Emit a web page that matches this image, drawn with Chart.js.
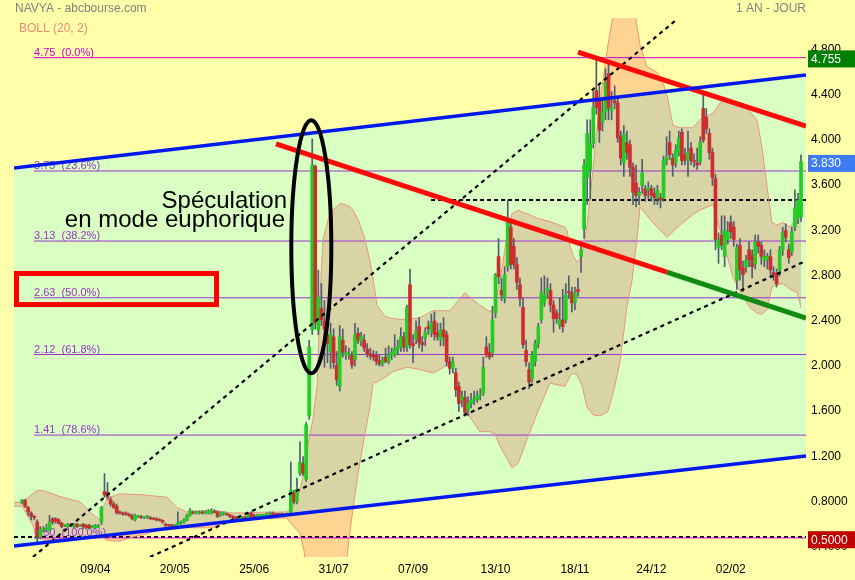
<!DOCTYPE html>
<html>
<head>
<meta charset="utf-8">
<script src="https://cdn.jsdelivr.net/npm/chart.js"></script>
<style>
  html, body { margin: 0; padding: 0; background: #FFFFAA; }
  #wrap { width: 855px; height: 580px; }
</style>
</head>
<body>
<div id="wrap"><canvas id="chart" width="855" height="580"></canvas></div>
<script>
// daily candles, index 0 = first session shown
const open = [
  .81,.835,.77,.72,.69,.64,.51,.57,.58,.57,.67,.67,.66,.63,.61,.60,
  .62,.60,.62,.61,.62,.61,.61,.60,.59,.60,.64,.91,.90,.84,.80,.78,
  .73,.72,.72,.71,.70,.66,.69,.69,.68,.68,.68,.675,.67,.665,.655,.62,
  .615,.615,.61,.615,.63,.64,.66,.70,.73,.72,.72,.73,.72,.72,.72,.735,
  .73,.70,.715,.715,.705,.69,.685,.665,.67,.685,.67,.72,.70,.69,.695,.70,
  .70,.71,.72,.715,.71,.71,.705,.71,.73,.90,.82,1.07,1.16,1.02,1.58,2.34,
  3.79,2.34,2.53,2.42,2.30,2.15,2.28,2.03,1.84,2.25,2.12,2.12,2.12,2.08,2.31,2.24,
  2.25,2.17,2.13,2.12,2.12,2.07,2.04,2.10,2.06,2.12,2.12,2.17,2.19,2.28,2.19,2.74,
  2.22,2.26,2.37,2.23,2.27,2.37,2.32,2.42,2.32,2.25,2.34,2.30,2.06,2.00,1.96,1.84,
  1.72,1.74,1.63,1.69,1.72,1.72,1.755,1.78,2.19,2.14,2.14,2.49,2.99,2.69,2.62,2.90,
  3.25,3.08,2.92,2.74,2.54,2.16,1.99,1.91,2.06,2.22,2.43,2.58,2.67,2.69,2.56,2.49,
  2.38,2.43,2.43,2.68,2.67,2.58,2.70,2.99,3.23,3.69,3.76,3.99,4.46,4.39,4.18,4.27,
  4.61,4.28,4.37,4.35,4.05,3.82,4.00,3.98,3.78,3.64,3.53,3.62,3.59,3.58,3.59,3.55,
  3.51,3.51,3.51,3.84,4.00,3.86,3.82,3.91,4.09,3.89,3.84,3.95,3.84,3.82,3.83,4.30,
  4.22,4.08,3.91,3.68,3.07,3.18,2.99,3.14,3.29,3.25,2.78,3.09,2.89,2.90,3.05,3.00,
  2.92,3.12,3.09,2.96,2.96,2.99,2.85,2.84,2.87,3.05,3.22,3.05,3.03,3.25,3.33,3.34
];
const high = [
  .84,.84,.78,.73,.70,.66,.60,.60,.62,.70,.68,.68,.67,.64,.62,.63,
  .63,.63,.63,.62,.63,.62,.62,.61,.62,.62,.78,1.07,.99,.86,.82,.80,
  .74,.73,.73,.72,.71,.71,.70,.70,.69,.70,.69,.68,.68,.67,.66,.63,
  .62,.62,.62,.73,.65,.67,.71,.76,.74,.74,.74,.74,.74,.75,.76,.75,
  .74,.73,.73,.72,.71,.70,.69,.68,.69,.69,.72,.73,.71,.71,.71,.71,
  .72,.73,.73,.72,.72,.72,.71,.72,1.17,.92,1.03,1.35,1.22,1.52,2.25,4.03,
  3.80,2.87,2.75,2.60,2.40,2.40,2.35,2.15,2.38,2.35,2.20,2.18,2.15,2.40,2.36,2.32,
  2.30,2.22,2.18,2.16,2.15,2.12,2.10,2.18,2.20,2.18,2.30,2.25,2.36,2.32,2.56,2.88,
  2.30,2.42,2.45,2.28,2.36,2.42,2.48,2.50,2.40,2.40,2.45,2.33,2.10,2.10,2.00,1.88,
  1.80,1.80,1.75,1.78,1.80,1.80,1.82,2.10,2.28,2.22,2.55,2.84,3.15,2.80,2.90,3.49,
  3.30,3.15,2.98,2.80,2.62,2.25,2.05,2.15,2.25,2.40,2.80,2.82,2.80,2.75,2.60,2.52,
  2.62,2.70,2.75,2.82,2.72,2.72,2.80,3.10,3.85,4.20,4.20,4.45,4.755,4.50,4.40,4.65,
  4.70,4.45,4.50,4.40,4.10,4.15,4.10,4.02,3.82,3.80,3.60,3.85,3.62,3.65,3.62,3.60,
  3.62,3.55,3.88,4.05,4.10,3.90,3.98,4.10,4.12,3.95,4.10,4.00,3.90,3.95,4.05,4.42,
  4.30,4.12,3.95,3.72,3.20,3.35,3.35,3.30,3.35,3.30,3.10,3.15,2.95,3.00,3.12,3.05,
  3.18,3.18,3.12,3.05,3.02,3.05,2.90,2.88,3.08,3.25,3.28,3.10,3.25,3.58,3.55,3.89
];
const low = [
  .80,.77,.70,.66,.66,.46,.49,.55,.56,.56,.62,.63,.62,.59,.60,.59,
  .60,.59,.59,.60,.58,.58,.58,.59,.58,.59,.62,.86,.84,.78,.76,.71,
  .71,.70,.70,.69,.66,.65,.68,.67,.67,.67,.66,.66,.65,.65,.63,.60,
  .60,.60,.60,.61,.62,.63,.65,.69,.71,.71,.71,.71,.71,.71,.71,.72,
  .68,.69,.70,.70,.68,.67,.65,.66,.66,.66,.66,.68,.68,.68,.69,.69,
  .69,.70,.70,.70,.70,.70,.70,.70,.72,.80,.80,1.05,1.05,1.00,1.55,2.30,
  2.35,2.30,2.38,2.01,2.05,2.00,2.00,1.85,1.80,2.10,2.08,2.08,2.00,2.02,2.22,2.20,
  2.15,2.10,2.08,2.07,2.03,2.02,2.02,2.05,2.04,2.08,2.10,2.12,2.15,2.15,2.15,2.18,
  2.05,2.22,2.18,2.15,2.20,2.30,2.28,2.25,2.25,2.20,2.20,2.02,1.95,1.96,1.75,1.62,
  1.66,1.58,1.58,1.65,1.68,1.70,1.72,1.76,2.10,2.08,2.10,2.45,2.75,2.60,2.58,2.86,
  2.88,2.88,2.70,2.55,2.18,2.02,1.82,1.88,2.02,2.18,2.40,2.55,2.62,2.50,2.32,2.40,
  2.35,2.32,2.40,2.62,2.50,2.52,2.64,2.85,3.15,3.45,3.50,3.95,4.25,4.00,4.10,4.20,
  4.20,4.20,4.30,4.00,3.80,3.70,3.85,3.70,3.45,3.43,3.45,3.55,3.48,3.50,3.48,3.45,
  3.45,3.42,3.48,3.80,3.85,3.70,3.78,3.88,3.80,3.80,3.70,3.80,3.78,3.76,3.80,4.00,
  4.08,3.85,3.62,3.05,2.93,3.05,2.90,3.10,3.15,3.08,2.70,2.78,2.68,2.85,2.90,2.80,
  2.88,3.02,2.92,2.90,2.88,2.82,2.78,2.72,2.82,3.00,3.12,2.93,3.00,3.22,3.28,3.30
];
const close = [
  .835,.78,.73,.69,.68,.51,.57,.58,.59,.64,.64,.65,.63,.60,.61,.62,
  .61,.62,.60,.61,.60,.59,.59,.60,.61,.61,.77,.88,.86,.80,.77,.72,
  .72,.71,.71,.70,.67,.70,.69,.68,.685,.69,.67,.665,.66,.655,.64,.61,
  .61,.605,.615,.63,.645,.66,.70,.74,.72,.73,.73,.72,.73,.74,.745,.725,
  .69,.72,.725,.705,.69,.68,.67,.675,.68,.67,.70,.69,.69,.70,.705,.705,
  .71,.72,.71,.705,.705,.705,.705,.71,.92,.82,.93,1.17,1.07,1.50,2.19,3.80,
  2.40,2.63,2.43,2.35,2.22,2.30,2.05,1.90,2.28,2.14,2.14,2.12,2.03,2.30,2.25,2.28,
  2.18,2.13,2.11,2.10,2.06,2.04,2.07,2.06,2.12,2.14,2.18,2.19,2.28,2.19,2.54,2.21,
  2.20,2.33,2.23,2.21,2.32,2.35,2.40,2.30,2.28,2.34,2.28,2.06,2.00,2.06,1.81,1.69,
  1.75,1.61,1.69,1.72,1.73,1.76,1.765,2.01,2.12,2.10,2.43,2.83,2.81,2.65,2.83,3.30,
  2.92,2.92,2.76,2.62,2.21,2.06,1.88,2.12,2.22,2.37,2.67,2.65,2.71,2.56,2.44,2.44,
  2.43,2.37,2.65,2.67,2.58,2.67,2.68,3.05,3.80,4.08,3.99,4.31,4.31,4.11,4.27,4.53,
  4.30,4.31,4.35,4.04,3.86,4.07,3.91,3.78,3.56,3.53,3.56,3.73,3.53,3.60,3.53,3.51,
  3.58,3.49,3.84,3.87,3.89,3.80,3.93,4.04,3.84,3.84,3.91,3.84,3.83,3.80,4.00,4.02,
  4.12,3.91,3.69,3.14,3.14,3.09,3.22,3.21,3.21,3.14,3.07,2.87,2.83,2.96,2.96,2.90,
  3.12,3.08,2.99,2.99,2.99,2.87,2.83,2.75,3.05,3.20,3.16,2.98,3.21,3.42,3.49,3.83
];

// BOLL (20, 2) at these sessions
const bandDay = [-2.62,0,2.6,4.9,6.9,12,16,19,22.3,25.5,26.5,27.8,28.8,32,36.3,40,47.5,50.7,54,62.5,69,75.6,86.7,88.7,91,92.3,93.9,95.2,96.6,97.5,98.5,100.8,104.1,105.7,106.4,107.4,108.4,110,112.3,113.9,114.9,116.2,118.8,121.4,126,130.3,134.5,136.8,140.1,143.4,145,146.6,149.9,153.2,154.8,156.5,158.8,160.4,162.4,165.3,168.6,172.8,177.7,178.4,179.4,180.4,181.7,183.3,184.9,186.9,188.5,190.2,191.8,193.5,195.7,198,199.7,201.3,202.3,204.6,207.9,209.8,211.1,213.1,215.4,219.6,221.9,226.2,228.5,230.8,232.7,236,238.3,240.6,242.2,243.9,245.5,247.1,249.1,251.4,253.7,255];
const bandUp = [.81,.82,.87,.92,.92,.87,.84,.82,.73,.66,.77,.84,.86,.89,.885,.88,.86,.77,.73,.745,.72,.725,.73,.77,.92,1.08,1.37,1.54,1.85,2.6,3.14,3.375,3.46,3.45,3.44,3.43,3.40,3.32,3.14,2.95,2.80,2.56,2.46,2.44,2.43,2.45,2.51,2.51,2.51,2.62,2.67,2.63,2.56,2.50,2.56,2.78,3.18,3.37,3.40,3.37,3.33,3.30,3.25,3.22,3.08,3.00,2.94,2.99,3.25,3.76,4.20,4.55,4.86,5.13,5.35,5.35,5.30,5.03,4.86,4.67,4.62,4.53,4.42,4.15,4.13,4.13,4.20,4.26,4.35,4.375,4.37,4.34,4.27,4.20,3.96,3.61,3.29,3.27,3.29,3.25,3.34,3.45];
const bandLow = [.78,.78,.66,.53,.48,.48,.48,.49,.50,.51,.50,.48,.475,.47,.51,.53,.59,.59,.59,.59,.66,.675,.675,.61,.54,.39,0,-.2,-.35,-.4,-.42,-.42,-.3,.15,.33,.57,.77,1.07,1.43,1.66,1.87,1.88,1.92,1.97,2.01,1.99,1.96,1.99,2.05,1.81,1.68,1.57,1.44,1.44,1.42,1.31,1.20,1.12,1.16,1.37,1.60,1.87,1.84,1.88,1.93,1.96,1.94,1.85,1.66,1.59,1.58,1.59,1.62,1.78,2.05,2.54,2.78,3.14,3.43,3.35,3.25,3.20,3.16,3.21,3.27,3.36,3.40,3.45,3.22,3.00,2.81,2.63,2.54,2.49,2.48,2.52,2.72,2.74,2.75,2.70,2.67,2.54];

// Fibonacci retracement (0% = 4.75, 100% = 0.50)
const fibValue = [4.75, 3.747, 3.127, 2.625, 2.123, 1.41, 0.5];
const fibText = ['4.75  (0.0%)', '3.75  (23.6%)', '3.13  (38.2%)', '2.63  (50.0%)', '2.12  (61.8%)', '1.41  (78.6%)', '0.50  (100.0%)'];
const fibStart = 3.93;

// axes
const dayMin = -2.62, dayMax = 256.63;
const priceMin = 0.331, priceMax = 5.101;
const yTicks = [0.4, 0.8, 1.2, 1.6, 2.0, 2.4, 2.8, 3.2, 3.6, 4.0, 4.4, 4.8];
const tickDay = [24, 50, 76, 102, 128, 155, 181, 206, 232];
const tickLabel = ['09/04', '20/05', '25/06', '31/07', '07/09', '13/10', '18/11', '24/12', '02/02'];

// hand drawn analysis, [day, price]
const blueUp = [[-2.62, 3.773], [256.63, 4.597]];
const blueLow = [[-2.62, 0.428], [256.63, 1.225]];
const redLong = [[83.14, 3.986], [211.1, 2.853]];
const greenLong = [[211.1, 2.853], [256.63, 2.446]];
const redTop = [[182.0, 4.80], [256.63, 4.145]];
const dotSteep = [[3.6, 0.331], [214.1, 5.083]];
const dotLow = [[41.9, 0.331], [256.63, 2.951]];
const dashHigh = [[133.9, 3.49], [256.63, 3.49]];
const dashLow = [[-2.62, 0.508], [256.63, 0.508]];
const ellipseAt = [94.7, 3.077], ellipseSize = [6.55, 1.12];
const frame = [[-1.8, 2.840], [63.67, 2.565]];
const noteAt = [[86.74, 3.419], [86.1, 3.247]];
const noteText = ['Spéculation', 'en mode euphorique'];

// price tags on the right axis
const tagValue = [4.755, 3.83, 0.5];
const tagText = ['4.755', '3.830', '0.5000'];

const FONT = '"Liberation Sans", Arial, sans-serif';
Chart.defaults.font.family = FONT;
Chart.defaults.font.size = 12;

const pts = arr => arr.map(p => ({x: p[0], y: p[1]}));
const bandPts = vals => bandDay.map((d, k) => ({x: d, y: vals[k]}));
const line = (data, color, width, dash, order) => ({
  type: 'line', data, borderColor: color, borderWidth: width, borderDash: dash || [],
  pointRadius: 0, tension: 0, fill: false, order
});

const datasets = [];
// 0-1: channel between the blue lines
datasets.push(line(pts(blueLow), 'rgba(0,0,0,0)', 0, null, 100));
datasets.push(Object.assign(line(pts(blueUp), 'rgba(0,0,0,0)', 0, null, 99), {fill: {target: 0}, backgroundColor: '#D9FFC2'}));
// 2-3: bollinger band area (multiplied over the background)
datasets.push(line(bandPts(bandLow), 'rgba(0,0,0,0)', 0, null, 98));
datasets.push(Object.assign(line(bandPts(bandUp), 'rgba(0,0,0,0)', 0, null, 97), {fill: {target: 2}, backgroundColor: 'rgb(255,212,218)'}));
// fib levels
fibValue.forEach((v, k) => {
  const edge = k === 0 || k === fibValue.length - 1;
  datasets.push(line([{x: fibStart, y: v}, {x: dayMax, y: v}], edge ? '#CC00CC' : '#9933CC', 1, null, 41));
});
datasets.push(line(pts(dashLow), '#000', 2, [4, 3], 42));
const dashHighIndex = datasets.length;
datasets.push(line(pts(dashHigh), '#000', 2, [4, 3], 40));
// band outlines
datasets.push(line(bandPts(bandUp), '#E8957E', 1, null, 30));
datasets.push(line(bandPts(bandLow), '#E8957E', 1, null, 30));
// candles
datasets.push({
  type: 'bar', data: open.map((o, i) => ({x: i, y: [low[i], high[i]]})),
  backgroundColor: '#4E5E6E', barThickness: 1, grouped: false, order: 21
});
datasets.push({
  type: 'bar', data: open.map((o, i) => ({x: i, y: [o, close[i]]})),
  backgroundColor: c => close[c.dataIndex] >= open[c.dataIndex] ? '#22CC22' : '#CC2E2E',
  barThickness: 3, grouped: false, minBarLength: 1, order: 20
});
// trend lines
datasets.push(line(pts(dotSteep), '#000', 2.2, [4, 4], 12));
datasets.push(line(pts(dotLow), '#000', 2.2, [4, 4], 12));
datasets.push(line(pts(redLong), '#FF0A0A', 5, null, 11));
datasets.push(line(pts(greenLong), '#108A10', 5, null, 11));
datasets.push(line(pts(redTop), '#FF0A0A', 5, null, 11));
datasets.push(line(pts(blueUp), '#0018F0', 3.5, null, 10));
datasets.push(line(pts(blueLow), '#0018F0', 3.5, null, 10));

const decor = {
  id: 'decor',
  beforeDraw(chart) {
    const ctx = chart.ctx;
    ctx.save();
    ctx.fillStyle = '#FFFFAA';
    ctx.fillRect(0, 0, chart.width, chart.height);
    ctx.restore();
  },
  afterDatasetDraw(chart, args) {
    const ctx = chart.ctx;
    if (args.index === 1) ctx.globalCompositeOperation = 'multiply';
    if (args.index === 3) ctx.globalCompositeOperation = 'source-over';
    if (args.index === dashHighIndex) {
      const x = chart.scales.x, y = chart.scales.y;
      ctx.save();
      ctx.font = '11px ' + FONT;
      ctx.textAlign = 'left';
      ctx.textBaseline = 'alphabetic';
      fibValue.forEach((v, k) => {
        ctx.fillStyle = k === 0 ? '#CC00CC' : '#9933CC';
        ctx.fillText(fibText[k], x.getPixelForValue(fibStart), y.getPixelForValue(v) - 2);
      });
      ctx.restore();
    }
  },
  afterDraw(chart) {
    const ctx = chart.ctx;
    const x = chart.scales.x, y = chart.scales.y;
    const px = d => x.getPixelForValue(d), py = v => y.getPixelForValue(v);
    ctx.save();

    // circled spike
    const cx = px(ellipseAt[0]), cy = py(ellipseAt[1]);
    ctx.beginPath();
    ctx.ellipse(cx, cy, px(ellipseAt[0] + ellipseSize[0]) - cx, cy - py(ellipseAt[1] + ellipseSize[1]), 0, 0, Math.PI * 2);
    ctx.lineWidth = 4;
    ctx.strokeStyle = '#000';
    ctx.stroke();

    // red frame on the 50% level
    ctx.lineWidth = 5;
    ctx.strokeStyle = '#FF0000';
    const fx = px(frame[0][0]), fy = py(frame[0][1]);
    ctx.strokeRect(fx, fy, px(frame[1][0]) - fx, py(frame[1][1]) - fy);

    // note
    ctx.fillStyle = '#000';
    ctx.font = '24px ' + FONT;
    ctx.textAlign = 'right';
    ctx.textBaseline = 'alphabetic';
    noteText.forEach((t, k) => ctx.fillText(t, px(noteAt[k][0]), py(noteAt[k][1])));

    // price tags
    const tagColor = ['#008000', '#3C7BF2', '#C00000'];
    ctx.font = '12px ' + FONT;
    ctx.textAlign = 'left';
    ctx.textBaseline = 'middle';
    tagValue.forEach((v, k) => {
      const ty = py(v) + 1.8;
      ctx.fillStyle = tagColor[k];
      ctx.fillRect(x.right + 2, ty - 8.5, chart.width - x.right - 2, 17);
      ctx.fillStyle = '#FFFFFF';
      ctx.fillText(tagText[k], x.right + 5, ty + 0.5);
    });

    // headers
    ctx.fillStyle = '#808080';
    ctx.fillText('NAVYA - abcbourse.com', 15, 9);
    ctx.textAlign = 'right';
    ctx.fillText('1 AN - JOUR', x.right, 9);
    ctx.textAlign = 'left';
    ctx.fillStyle = '#F08878';
    ctx.fillText('BOLL (20, 2)', 19, 29);
    ctx.restore();
  }
};

new Chart(document.getElementById('chart'), {
  type: 'bar',
  data: {datasets},
  options: {
    responsive: false,
    animation: false,
    devicePixelRatio: 1,
    events: [],
    layout: {padding: {left: 14, top: 18, right: 0, bottom: 0}},
    plugins: {legend: {display: false}, tooltip: {enabled: false}},
    scales: {
      x: {
        type: 'linear', min: dayMin, max: dayMax, offset: false,
        grid: {display: false, drawTicks: false}, border: {display: false},
        afterBuildTicks: s => { s.ticks = tickDay.map(v => ({value: v})); },
        afterFit: s => { s.height = 23; },
        ticks: {autoSkip: false, maxRotation: 0, padding: 5, color: '#000', callback: (v, k) => tickLabel[k]}
      },
      y: {
        position: 'right', min: priceMin, max: priceMax,
        grid: {display: false, drawTicks: false}, border: {display: false},
        afterBuildTicks: s => { s.ticks = yTicks.map(v => ({value: v})); },
        afterFit: s => { s.width = 49; },
        ticks: {autoSkip: false, padding: 5, color: '#000', labelOffset: -2.5,
          callback: v => v < 1 ? v.toFixed(4) : v.toFixed(3)}
      }
    }
  },
  plugins: [decor]
});
</script>
</body>
</html>
